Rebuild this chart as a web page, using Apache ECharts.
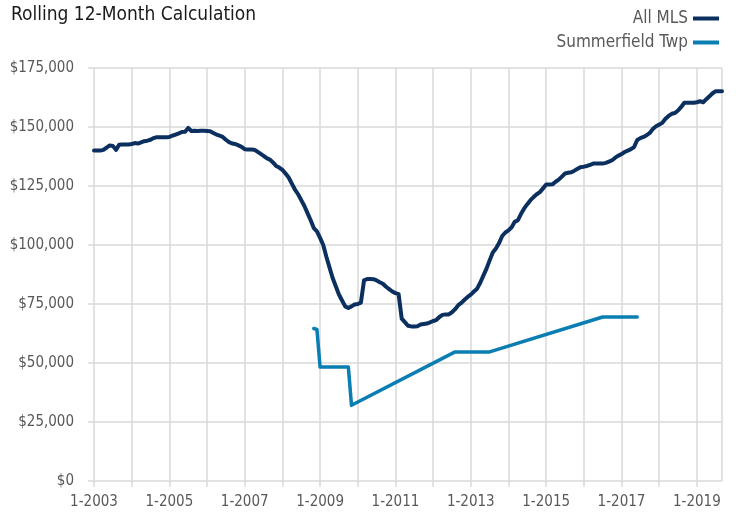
<!DOCTYPE html>
<html>
<head>
<meta charset="utf-8">
<script src="https://cdn.jsdelivr.net/npm/echarts@6/dist/echarts.min.js"></script>
<style>
  html, body { margin: 0; padding: 0; background: #fff; }
  #chart { width: 738px; height: 515px; }
</style>
</head>
<body>
<div id="chart"></div>
<script>
// monthly categories 1-2003 .. 9-2019
const startYear = 2003;
const monthCount = 201;
const months = [];
for (let i = 0; i < monthCount; i++) {
  months.push(`${(i % 12) + 1}-${startYear + Math.floor(i / 12)}`);
}

const yTicks = [0, 25000, 50000, 75000, 100000, 125000, 150000, 175000];

// All MLS, one value per month
const allMls = [
  140000, 140000, 140000, 140300, 141300, 142200, 142000, 140300, 142500, 142600, 142600, 142600, // 2003
  142800, 143200, 143000, 143500, 144000, 144200, 144600, 145300, 145700, 145700, 145700, 145700, // 2004
  145800, 146300, 146800, 147300, 147900, 148000, 149600, 148300, 148400, 148300, 148400, 148400, // 2005
  148300, 148200, 147500, 146800, 146300, 145800, 144600, 143600, 143000, 142800, 142200, 141600, // 2006
  140600, 140500, 140500, 140400, 139600, 138700, 137800, 136800, 136200, 135000, 133500, 132800, // 2007
  131800, 130300, 128600, 126000, 123500, 121500, 119000, 116500, 113500, 110500, 107200, 105800, // 2008
  103000, 100000, 95000, 90500, 86000, 82500, 79000, 76500, 74000, 73300, 74000, 74800,          // 2009
  75000, 75600, 85000, 85600, 85600, 85500, 85000, 84200, 83600, 82300, 81300, 80300,             // 2010
  79600, 79200, 68800, 67300, 65800, 65500, 65500, 65600, 66300, 66500, 66700, 67200,             // 2011
  67800, 68200, 69500, 70400, 70600, 70600, 71500, 72800, 74500, 75500, 76800, 78000,             // 2012
  79000, 80300, 81500, 84000, 87000, 90000, 93500, 96800, 98500, 100800, 103800, 105300,          // 2013
  106200, 107500, 109800, 110500, 113200, 115500, 117300, 119000, 120300, 121500, 122400, 124000, // 2014
  125600, 125600, 125700, 126800, 127700, 129000, 130300, 130600, 130800, 131500, 132300, 133000, // 2015
  133200, 133500, 134000, 134500, 134500, 134500, 134500, 134800, 135300, 135900, 137000, 137900, // 2016
  138500, 139400, 140000, 140600, 141500, 144500, 145300, 145800, 146500, 147500, 149200, 150300, // 2017
  151000, 151800, 153500, 154700, 155600, 155900, 157000, 158500, 160300, 160300, 160300, 160300, // 2018
  160500, 160900, 160500, 161800, 163000, 164300, 165200, 165200, 165200                          // 2019
];

// Summerfield Twp, sparse months (the chart joins the gaps with straight lines)
const summerfield = [
  ['11-2008', 64600],
  ['12-2008', 64200],
  ['1-2009', 48300],
  ['10-2009', 48300],
  ['11-2009', 32100],
  ['8-2012', 54700],
  ['7-2013', 54700],
  ['7-2016', 69500],
  ['6-2017', 69500]
];

const FONT = "'Liberation Sans Narrow', 'DejaVu Sans Condensed', sans-serif";
const GRID_COLOR = '#d9d9d9';

function isYearStart(index) {
  return index % 12 === 0 || index === monthCount - 1;
}

const chart = echarts.init(document.getElementById('chart'), null, { renderer: 'canvas' });

chart.setOption({
  animation: false,
  textStyle: { fontFamily: FONT },
  title: {
    text: 'Rolling 12-Month Calculation',
    left: 6,
    top: 1,
    textStyle: { fontFamily: FONT, fontSize: 19, fontWeight: 'normal', color: '#1a1a1a' }
  },
  legend: {
    orient: 'vertical',
    right: 14,
    top: 5,
    align: 'right',
    itemWidth: 26,
    itemHeight: 4,
    itemGap: 7,
    icon: 'rect',
    textStyle: { fontFamily: FONT, fontSize: 17, color: '#595959' },
    data: ['All MLS', 'Summerfield Twp']
  },
  grid: { left: 94, right: 16, top: 68, bottom: 34 },
  xAxis: {
    type: 'category',
    data: months,
    boundaryGap: false,
    axisLine: { show: false },
    axisTick: {
      show: true,
      length: 6,
      interval: (i) => i % 12 === 0,
      lineStyle: { color: GRID_COLOR, width: 1.5 }
    },
    splitLine: {
      show: true,
      interval: (i) => isYearStart(i),
      lineStyle: { color: GRID_COLOR, width: 1.5 }
    },
    axisLabel: {
      interval: (i) => i % 24 === 0,
      margin: 14,
      fontFamily: FONT,
      fontSize: 15,
      color: '#595959'
    }
  },
  yAxis: {
    type: 'value',
    min: yTicks[0],
    max: yTicks[yTicks.length - 1],
    interval: 25000,
    axisLine: { show: false },
    axisTick: { show: true, length: 6, lineStyle: { color: GRID_COLOR, width: 1.5 } },
    splitLine: { lineStyle: { color: GRID_COLOR, width: 1.5 } },
    axisLabel: {
      margin: 20,
      fontFamily: FONT,
      fontSize: 15,
      color: '#595959',
      formatter: (v) => '$' + v.toLocaleString('en-US')
    }
  },
  series: [
    {
      name: 'All MLS',
      type: 'line',
      data: allMls,
      showSymbol: false,
      color: '#0b2f5e',
      lineStyle: { width: 4, color: '#0b2f5e', cap: 'round', join: 'round' }
    },
    {
      name: 'Summerfield Twp',
      type: 'line',
      data: summerfield,
      showSymbol: false,
      connectNulls: true,
      color: '#0a7db3',
      lineStyle: { width: 3.5, color: '#0a7db3', cap: 'round', join: 'round' }
    }
  ]
});
</script>
</body>
</html>
